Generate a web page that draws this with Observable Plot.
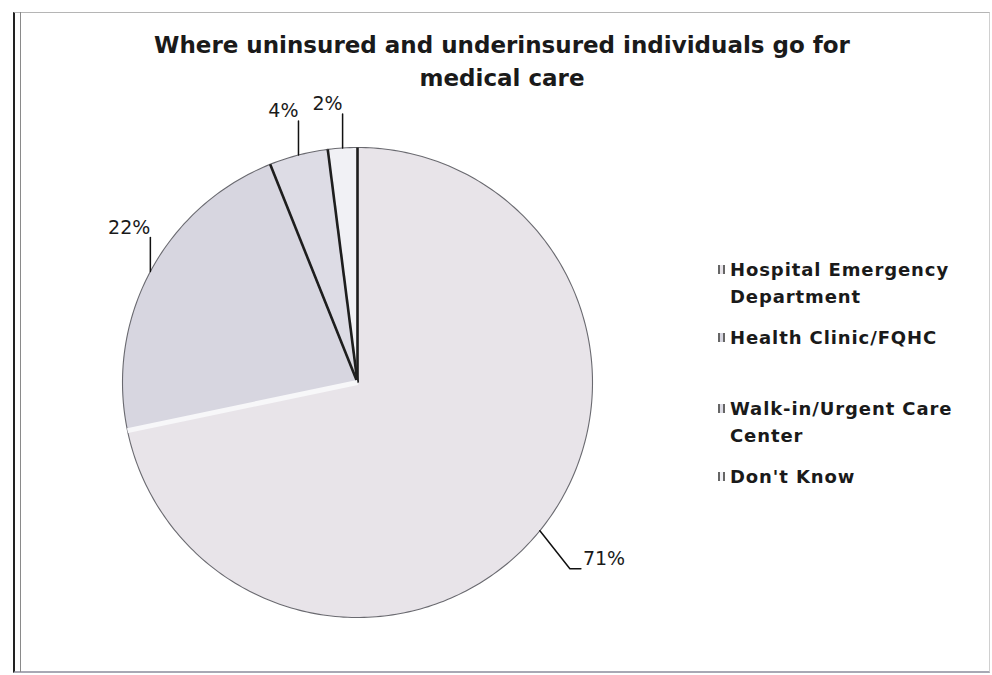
<!DOCTYPE html>
<html><head><meta charset="utf-8">
<script src="https://cdn.jsdelivr.net/npm/d3@7"></script>
<script src="https://cdn.jsdelivr.net/npm/@observablehq/plot@0.6"></script>
<style>
body{margin:0;background:#fff;}
#wrap{position:relative;width:992px;height:675px;overflow:hidden;font-family:"DejaVu Sans",sans-serif;background:#fff;}
#frame{position:absolute;left:13px;top:12px;width:974px;height:658px;border-left:2px solid #222;border-top:1.5px solid #b5b5b5;border-right:1px solid #d0d0d0;border-bottom:2px solid #a8a8b4;}
#frame2{position:absolute;left:20px;top:12px;width:0;height:660px;border-left:1.5px solid #8a8a8a;}
#title{position:absolute;left:0;top:29px;width:1004px;text-align:center;font-weight:bold;font-size:23px;line-height:33px;color:#1a1a1a;}
#chart{position:absolute;left:0;top:95px;}
#legend{position:absolute;left:716px;top:256px;width:276px;}
.item{display:flex;align-items:flex-start;height:68px;font-size:18px;line-height:27px;color:#1a1a1a;font-weight:bold;letter-spacing:0.9px;}
.item.gap{height:71px;}
.sw{flex:none;width:7px;height:9px;margin:9px 5px 0 2px;border-left:2px solid #666;border-right:2px solid #666;box-sizing:border-box;}
.lt{width:255px;}
</style></head>
<body>
<div id="wrap">
  <div id="frame"></div><div id="frame2"></div>
  <div id="title">Where uninsured and underinsured individuals go for<br>medical care</div>
  <div id="chart"></div>
  <div id="legend"></div>
</div>
<script>
const categories = ["Hospital Emergency Department", "Health Clinic/FQHC", "Walk-in/Urgent Care Center", "Don't Know"];
const percents = [71, 22, 4, 2];
const labels = ["71%", "22%", "4%", "2%"];
const sliceColors = ["#e8e4e9", "#d7d6e0", "#dddce5", "#f1f1f5"];

const W = 992, H = 580, CX = 357, CY = 287, R = 235;
const px = v => v / R; // pixel offset -> data units
const total = d3.sum(percents);
let acc = 0;
const slices = percents.map((p, i) => {
  const a0 = acc / total * 2 * Math.PI;
  acc += p;
  const a1 = acc / total * 2 * Math.PI;
  return {cat: categories[i], label: labels[i], a0, a1, mid: (a0 + a1) / 2, color: sliceColors[i]};
});

function polygon(s) {
  const pts = [{x: 0, y: 0}];
  const n = Math.max(4, Math.ceil((s.a1 - s.a0) / (Math.PI / 180)));
  for (let k = 0; k <= n; k++) {
    const a = s.a0 + (s.a1 - s.a0) * k / n;
    pts.push({x: Math.sin(a), y: Math.cos(a)});
  }
  pts.push({x: 0, y: 0});
  return pts;
}

const boundaries = slices.map((s, i) => ({a: s.a0, light: i === 1}));

// Leader lines and label anchors (Excel-style): upper labels have a vertical leader,
// lower labels have a bent leader ending in a short horizontal stroke.
const leaderPts = [];
const labelPos = [];
slices.forEach((s, i) => {
  const ex = Math.sin(s.mid), ey = Math.cos(s.mid);
  if (ey > 0) {
    const tx = ex, ty = ey + px(34);
    leaderPts.push({id: i, x: ex, y: ey}, {id: i, x: tx, y: ty});
    labelPos.push({x: tx, y: ty + px(10), text: s.label, anchor: "end"});
  } else {
    const bx = ex + px(30), by = ey - px(38);
    leaderPts.push({id: i, x: ex, y: ey}, {id: i, x: bx, y: by}, {id: i, x: bx + px(11), y: by});
    labelPos.push({x: bx + px(13), y: by + px(10), text: s.label, anchor: "start"});
  }
});

const marks = [];
slices.forEach(s => {
  marks.push(Plot.line(polygon(s), {x: "x", y: "y", fill: s.color, stroke: "#6a6a70", strokeWidth: 1.1, curve: "linear"}));
});
marks.push(Plot.link(boundaries.filter(b => !b.light), {
  x1: () => 0, y1: () => 0, x2: b => Math.sin(b.a), y2: b => Math.cos(b.a), stroke: "#1e1e1e", strokeWidth: 2.6
}));
marks.push(Plot.link(boundaries.filter(b => b.light), {
  x1: () => 0, y1: () => 0, x2: b => Math.sin(b.a), y2: b => Math.cos(b.a), stroke: "#f7f7f9", strokeWidth: 5
}));
marks.push(Plot.line(leaderPts, {x: "x", y: "y", z: "id", stroke: "#111", strokeWidth: 1.5, curve: "linear"}));
["start", "end"].forEach(anc => {
  marks.push(Plot.text(labelPos.filter(d => d.anchor === anc), {
    x: "x", y: "y", text: "text", textAnchor: anc, fontSize: 19, fill: "#1a1a1a",
    fontFamily: "DejaVu Sans"
  }));
});

const chart = Plot.plot({
  width: W, height: H,
  margin: 0,
  x: {domain: [-1, 1], range: [CX - R, CX + R], axis: null},
  y: {domain: [-1, 1], range: [CY + R, CY - R], axis: null},
  style: {background: "transparent", overflow: "visible"},
  marks
});
document.getElementById("chart").appendChild(chart);

const legend = document.getElementById("legend");
categories.forEach((c, i) => {
  const item = document.createElement("div");
  item.className = "item" + (i === 1 ? " gap" : "");
  const sw = document.createElement("div");
  sw.className = "sw";
  sw.style.background = sliceColors[i];
  const t = document.createElement("div");
  t.className = "lt";
  t.textContent = c;
  item.appendChild(sw); item.appendChild(t);
  legend.appendChild(item);
});
</script>
</body></html>
